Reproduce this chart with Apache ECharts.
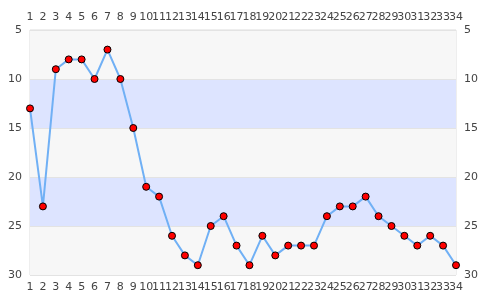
<!DOCTYPE html>
<html><head><meta charset="utf-8">
<script src="https://cdn.jsdelivr.net/npm/echarts@6/dist/echarts.min.js"></script>
<style>html,body{margin:0;padding:0;background:#fff}#c{width:485px;height:300px}</style>
</head><body><div id="c"></div>
<script>
var categories = ['1','2','3','4','5','6','7','8','9','10','11','12','13','14','15','16','17','18','19','20','21','22','23','24','25','26','27','28','29','30','31','32','33','34'];
var values = [13,23,9,8,8,10,7,10,15,21,22,26,28,29,25,24,27,29,26,28,27,27,27,24,23,23,22,24,25,26,27,26,27,29];
var yTicks = [5,10,15,20,25,30];

var chart = echarts.init(document.getElementById('c'));
var xBase = {
  type:'category', data:categories, boundaryGap:false,
  axisLine:{show:false}, axisTick:{show:false},
  axisLabel:{color:'#444', fontSize:11, fontFamily:'DejaVu Sans', interval:0, margin:7},
  splitLine:{show:false}
};
var yBase = {
  type:'value', min:5, max:30, interval:5, inverse:true,
  axisLine:{show:false}, axisTick:{show:false},
  axisLabel:{color:'#444', fontSize:11, fontFamily:'DejaVu Sans', margin:8}
};
chart.setOption({
  animation:false,
  grid:{left:30, right:29, top:30, bottom:25, show:true, borderColor:'#ddd', borderWidth:1},
  xAxis:[Object.assign({}, xBase, {position:'bottom'}), Object.assign({}, xBase, {position:'top'})],
  yAxis:[
    Object.assign({}, yBase, {position:'left',
      splitLine:{show:true, lineStyle:{color:'#e3e3e3', width:1}},
      splitArea:{show:true, areaStyle:{color:['#f7f7f7','#dde4ff']}}}),
    Object.assign({}, yBase, {position:'right', splitLine:{show:false}})
  ],
  series:[{
    type:'line', data:values, xAxisIndex:0, yAxisIndex:0,
    symbol:'circle', symbolSize:7,
    lineStyle:{color:'#70b0f5', width:2},
    itemStyle:{color:'#ff0000', borderColor:'#000', borderWidth:1}
  }]
});
</script></body></html>
